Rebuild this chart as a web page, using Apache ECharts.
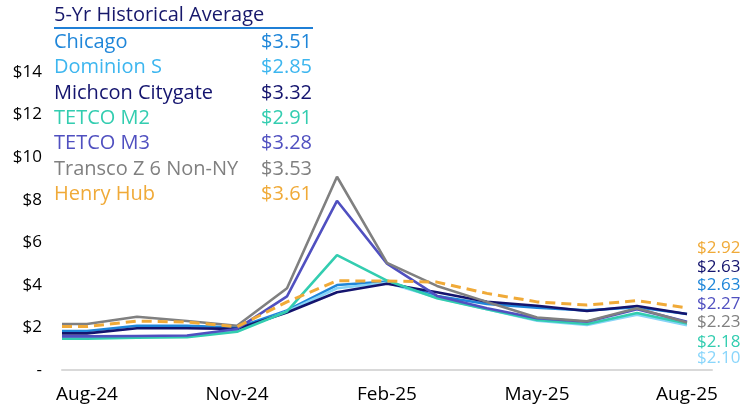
<!DOCTYPE html>
<html>
<head>
<meta charset="utf-8">
<script src="https://cdn.jsdelivr.net/npm/echarts@6/dist/echarts.min.js"></script>
<style>
html,body{margin:0;padding:0;background:#fff;}
#c{width:743px;height:409px;}
</style>
</head>
<body>
<div id="c"></div>
<script>
// ---- data ----
var months = ['Aug-24','Sep-24','Oct-24','Nov-24','Dec-24','Jan-25','Feb-25','Mar-25','Apr-25','May-25','Jun-25','Jul-25','Aug-25'];
var seriesNames = ['Chicago','Dominion S','Michcon Citygate','TETCO M2','TETCO M3','Transco Z 6 Non-NY','Henry Hub'];
var chicago  = [1.83,2.08,2.08,1.99,2.80,3.99,4.15,3.48,3.10,2.93,2.80,2.95,2.63];
var dominion = [1.52,1.56,1.58,1.85,2.75,3.84,4.10,3.40,2.85,2.32,2.12,2.60,2.10];
var michcon  = [1.72,1.96,1.96,1.93,2.70,3.65,4.05,3.65,3.21,3.02,2.77,3.01,2.63];
var tetcoM2  = [1.47,1.52,1.54,1.80,2.75,5.40,4.20,3.37,2.85,2.35,2.16,2.68,2.18];
var tetcoM3  = [1.58,1.60,1.62,1.93,3.46,7.95,5.00,3.48,2.90,2.43,2.27,2.86,2.27];
var transco  = [2.16,2.50,2.30,2.08,3.84,9.08,5.03,3.95,3.20,2.47,2.29,2.90,2.23];
var henryHub = [2.04,2.30,2.25,2.03,3.20,4.19,4.18,4.13,3.60,3.20,3.05,3.26,2.92];
var fiveYrAvg = [3.51,2.85,3.32,2.91,3.28,3.53,3.61];
var yTicks = [0,2,4,6,8,10,12,14];

// ---- styling ----
var FONT = 'Open Sans';
var lineColors  = ['#1f86d9','#86d4f7','#14146e','#33cdb0','#5050c0','#808080','#f0aa38'];
var legendColors= ['#1f86d9','#3db6ef','#14146e','#33cdb0','#5050c0','#808080','#f0aa38'];
var allData = [chicago,dominion,michcon,tetcoM2,tetcoM3,transco,henryHub];

// half-month category grid: axis start, then each month at odd indices
var cats = [];
for (var i = 0; i < months.length * 2 + 1; i++) {
  cats.push(i % 2 === 1 ? months[(i - 1) / 2] : 'h' + i);
}
function expand(arr) {
  var out = [arr[0]];
  for (var k = 0; k < arr.length; k++) { out.push(arr[k]); if (k < arr.length - 1) out.push(null); }
  return out;
}

var series = allData.map(function (d, idx) {
  var isHH = seriesNames[idx] === 'Henry Hub';
  return {
    name: seriesNames[idx], type: 'line', data: expand(d), connectNulls: true,
    showSymbol: false, symbol: 'none', silent: true,
    lineStyle: { color: lineColors[idx], width: isHH ? 3 : 2.6, type: isHH ? [10, 6] : 'solid' },
    z: 2 + idx
  };
});

// legend table
var graphics = [];
var LEGFONT = '20px "' + FONT + '"';
var legX = 54, legR = 312, rowY0 = 42, rowH = 25.4;
graphics.push({ type: 'text', x: legX, y: 15, style: { text: '5-Yr Historical Average', font: LEGFONT, fill: '#17186b', textVerticalAlign: 'middle' } });
graphics.push({ type: 'rect', shape: { x: legX, y: 27, width: legR - legX + 1, height: 2 }, style: { fill: '#1f7fd6' } });
seriesNames.forEach(function (n, idx) {
  var y = rowY0 + rowH * idx;
  graphics.push({ type: 'text', x: legX, y: y, style: { text: n, font: LEGFONT, fill: legendColors[idx], textVerticalAlign: 'middle', textAlign: 'left' } });
  graphics.push({ type: 'text', x: legR, y: y, style: { text: '$' + fiveYrAvg[idx].toFixed(2), font: LEGFONT, fill: legendColors[idx], textVerticalAlign: 'middle', textAlign: 'right' } });
});

// end labels (stacked at right, in this order)
var endOrder = [6, 2, 0, 4, 5, 3, 1];
var endY = [248, 267, 285, 304, 322, 342, 358];
var endColors = { 0: '#1f86d9', 1: '#8ad6fb', 2: '#14146e', 3: '#33cdb0', 4: '#5050c0', 5: '#808080', 6: '#f0aa38' };
endOrder.forEach(function (si, k) {
  var d = allData[si];
  graphics.push({ type: 'text', x: 697, y: endY[k], style: { text: '$' + d[d.length - 1].toFixed(2), font: '17px "' + FONT + '"', fill: endColors[si], textVerticalAlign: 'middle', textAlign: 'left' } });
});

var chart = echarts.init(document.getElementById('c'), null, { renderer: 'canvas' });
chart.setOption({
  animation: false,
  backgroundColor: '#ffffff',
  grid: { left: 62, right: 31, top: 72, bottom: 39, containLabel: false },
  xAxis: {
    type: 'category', data: cats, boundaryGap: false,
    axisLine: { lineStyle: { color: '#d9d9d9', width: 2 } },
    axisTick: { show: false },
    axisLabel: {
      interval: function (idx) { return idx % 6 === 1; },
      color: '#000', fontFamily: FONT, fontSize: 19, margin: 15
    },
    splitLine: { show: false }
  },
  yAxis: {
    type: 'value', min: yTicks[0], max: yTicks[yTicks.length - 1], interval: yTicks[1] - yTicks[0],
    axisLine: { show: false }, axisTick: { show: false }, splitLine: { show: false },
    axisLabel: {
      color: '#000', fontFamily: FONT, fontSize: 17, margin: 20,
      formatter: function (v) { return v === 0 ? '-' : '$' + v; }
    }
  },
  series: series,
  graphic: graphics
});
</script>
</body>
</html>
